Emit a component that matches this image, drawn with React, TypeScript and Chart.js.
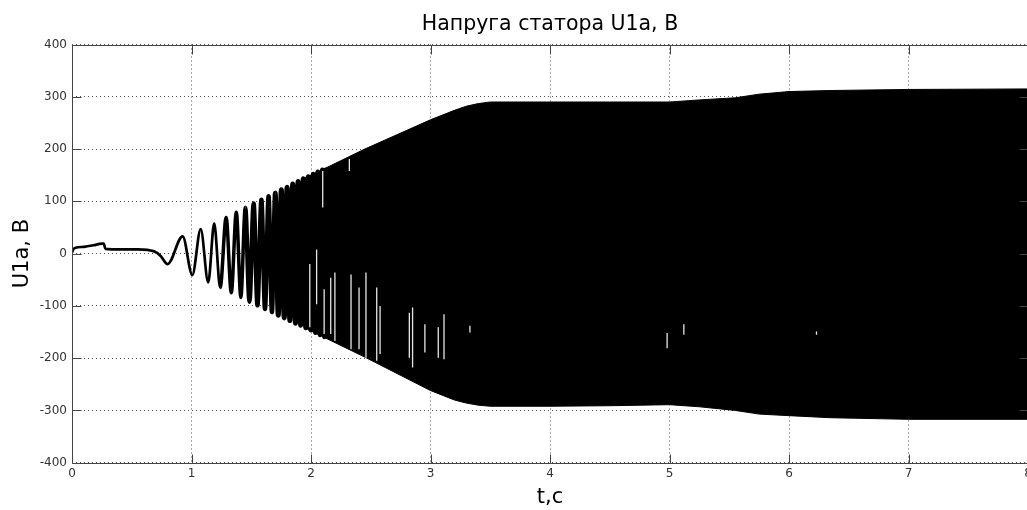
import React, { useEffect, useRef } from 'react';
import { Chart, registerables } from 'chart.js';

Chart.register(...registerables);

const TITLE = 'Напруга статора U1a, В';
const X_LABEL = 't,c';
const Y_LABEL = 'U1a, В';

const X_TICKS = [0, 1, 2, 3, 4, 5, 6, 7, 8];
const Y_TICKS = [-400, -300, -200, -100, 0, 100, 200, 300, 400];

// Start-up part of the signal, where single swings can be read (time s, voltage V)
const EARLY_T = [
  0, 0.01, 0.03, 0.1, 0.18, 0.25, 0.265, 0.28, 0.4, 0.55,
  0.63, 0.69, 0.74, 0.8, 0.926, 1.007, 1.077, 1.14, 1.19, 1.24,
  1.29, 1.333, 1.375, 1.413, 1.45, 1.485, 1.52, 1.552, 1.585, 1.615,
  1.645, 1.673, 1.7, 1.726, 1.752, 1.776, 1.8, 1.823, 1.847, 1.87,
  1.892, 1.913, 1.935, 1.956, 1.977, 1.997, 2.018, 2.037, 2.057, 2.076,
  2.095, 2.113, 2.132,
];
const EARLY_U = [
  2, 8, 11, 13, 16, 19, 19, 9, 8, 8,
  7, 4, -4, -20, 33, -41, 47, -55, 58, -65,
  69, -75, 79, -84, 88, -92, 96, -99, 103, -106,
  110, -112, 116, -118, 122, -123, 127, -128, 133, -133,
  138, -137, 143, -142, 147, -146, 152, -151, 156, -155,
  160, -159, 164,
];

// Envelope of the dense oscillation (time s, upper / lower voltage V)
const ENV_T = [1.95, 2.0, 2.45, 3.0, 3.2, 3.3, 3.4, 3.5, 4.0, 4.5, 5.0, 5.25, 5.55, 5.75, 6.0, 6.35, 7.0, 8.0];
const ENV_UPPER = [145, 150, 200, 256, 274, 282, 287, 290, 290, 290, 290, 294, 298, 305, 310, 312, 314, 315];
const ENV_LOWER = [-142, -148, -198, -262, -280, -286, -290, -292, -292, -291, -289, -293, -300, -307, -310, -314, -317, -317];

// Narrow light gaps visible inside the dense band (time s, top / bottom V)
const GAP_T = [1.99, 2.047, 2.098, 2.11, 2.165, 2.2, 2.321, 2.335, 2.402, 2.46, 2.55, 2.578, 2.823, 2.85, 2.953, 3.065, 3.113, 3.33, 4.98, 5.12, 6.23];
const GAP_TOP = [-20, 8, 158, -68, -46, -36, 181, -40, -65, -36, -65, -100, -113, -103, -135, -141, -116, -138, -152, -135, -149];
const GAP_BOTTOM = [-141, -97, 88, -154, -154, -167, 158, -183, -183, -199, -205, -192, -199, -218, -189, -199, -202, -151, -181, -155, -155];

const FONT = "'DejaVu Sans', Arial, sans-serif";

const framePlugin = {
  id: 'matlabFrame',
  afterDatasetsDraw(chart: any) {
    const { ctx, chartArea, scales } = chart;
    const { left, right, top, bottom } = chartArea;
    const x = scales.x;
    const y = scales.y;
    const tl = 9;
    ctx.save();
    ctx.strokeStyle = '#444';
    ctx.lineWidth = 1;
    ctx.setLineDash([]);
    ctx.beginPath();
    const L = Math.round(left) + 0.5;
    const R = Math.round(right) + 0.5;
    const T = Math.round(top) + 0.5;
    const B = Math.round(bottom) + 0.5;
    ctx.moveTo(L, T); ctx.lineTo(R, T); ctx.lineTo(R, B); ctx.lineTo(L, B); ctx.closePath();
    for (const v of X_TICKS) {
      const px = Math.round(x.getPixelForValue(v)) + 0.5;
      ctx.moveTo(px, B); ctx.lineTo(px, B - tl);
      ctx.moveTo(px, T); ctx.lineTo(px, T + tl);
    }
    for (const v of Y_TICKS) {
      const py = Math.round(y.getPixelForValue(v)) + 0.5;
      ctx.moveTo(L, py); ctx.lineTo(L + tl, py);
      ctx.moveTo(R, py); ctx.lineTo(R - tl, py);
    }
    ctx.stroke();
    ctx.restore();
  },
};

const strokeWidthAt = (t: number) => (t >= 1.7 ? 5 : t >= 1.45 ? 4.4 : t >= 1.2 ? 3.5 : 2.7);

export default function App() {
  const ref = useRef<HTMLCanvasElement>(null);

  useEffect(() => {
    const canvas = ref.current;
    if (!canvas) return;

    const gapData: any[] = [];
    GAP_T.forEach((t, i) => {
      gapData.push({ x: t, y: GAP_TOP[i] }, { x: t, y: GAP_BOTTOM[i] }, { x: t, y: null });
    });

    const chart = new Chart(canvas, {
      type: 'line',
      data: {
        datasets: [
          {
            data: gapData,
            borderColor: '#e6e6e6',
            borderWidth: 1.3,
            pointRadius: 0,
            fill: false,
            spanGaps: false,
          },
          {
            data: EARLY_T.map((t, i) => ({ x: t, y: EARLY_U[i] })),
            borderColor: '#000',
            borderWidth: 2.7,
            borderJoinStyle: 'round',
            pointRadius: 0,
            cubicInterpolationMode: 'monotone',
            fill: false,
            segment: {
              borderWidth: (c: any) => strokeWidthAt(c.p0.parsed.x),
            },
          },
          {
            data: ENV_T.map((t, i) => ({ x: t, y: ENV_UPPER[i] })),
            borderColor: '#000',
            borderWidth: 1,
            pointRadius: 0,
            fill: '+1',
            backgroundColor: '#000',
          },
          {
            data: ENV_T.map((t, i) => ({ x: t, y: ENV_LOWER[i] })),
            borderColor: '#000',
            borderWidth: 1,
            pointRadius: 0,
            fill: false,
          },
        ],
      },
      options: {
        responsive: false,
        animation: false,
        devicePixelRatio: 1,
        layout: { padding: { left: 0, right: 72, top: 0, bottom: 0 } },
        plugins: {
          legend: { display: false },
          tooltip: { enabled: false },
          title: {
            display: true,
            fullSize: false,
            text: TITLE,
            color: '#000',
            font: { family: FONT, size: 20.5, weight: 'normal' },
            padding: { top: 12.7, bottom: 7.2 },
          },
        },
        scales: {
          x: {
            type: 'linear',
            min: 0,
            max: 8,
            afterBuildTicks: (s: any) => {
              s.ticks = X_TICKS.map((v) => ({ value: v }));
            },
            afterFit: (s: any) => {
              s.height = 47.3;
            },
            grid: { color: '#555', lineWidth: 1, drawTicks: false },
            border: { display: false, dash: [1, 3] },
            ticks: { color: '#333', padding: 4, font: { family: FONT, size: 12 }, maxRotation: 0 },
            title: {
              display: true,
              text: X_LABEL,
              color: '#000',
              font: { family: FONT, size: 21, weight: 'normal' },
              padding: { top: 0, bottom: 0 },
            },
          },
          y: {
            type: 'linear',
            min: -400,
            max: 400,
            afterBuildTicks: (s: any) => {
              s.ticks = Y_TICKS.map((v) => ({ value: v }));
            },
            afterFit: (s: any) => {
              s.width = 72;
            },
            grid: { color: '#555', lineWidth: 1, drawTicks: false },
            border: { display: false, dash: [1, 3] },
            ticks: { color: '#333', padding: 5, font: { family: FONT, size: 12 } },
            title: {
              display: true,
              text: Y_LABEL,
              color: '#000',
              font: { family: FONT, size: 21, weight: 'normal' },
              padding: { top: 10, bottom: 0 },
            },
          },
        },
      },
      plugins: [framePlugin],
    } as any);

    return () => chart.destroy();
  }, []);

  return (
    <div
      style={{
        position: 'fixed',
        left: 0,
        top: 0,
        width: 1027,
        height: 510,
        overflow: 'hidden',
        background: '#fff',
      }}
    >
      <canvas ref={ref} width={1100} height={510} style={{ display: 'block', width: 1100, height: 510 }} />
    </div>
  );
}
